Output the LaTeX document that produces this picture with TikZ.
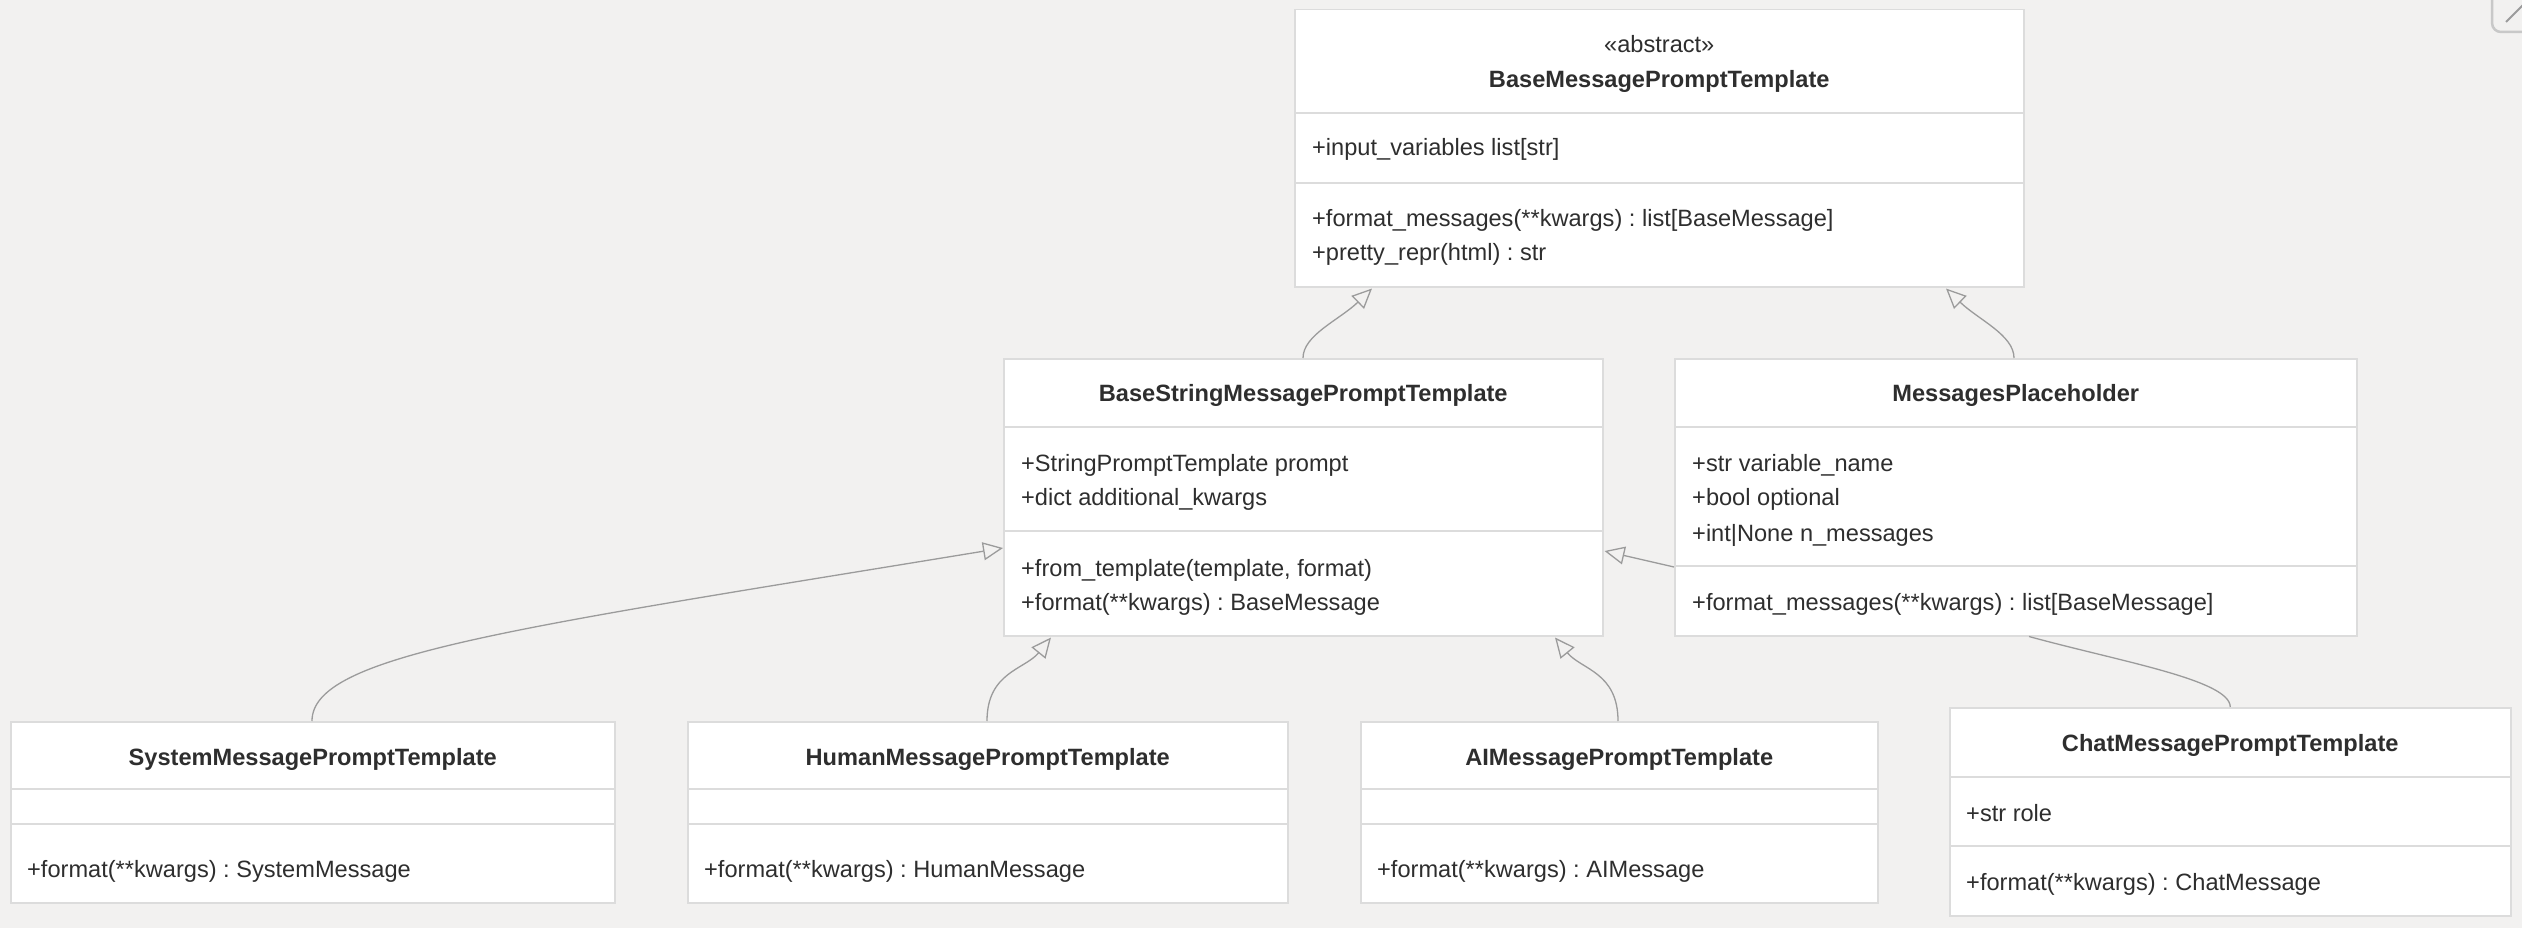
\documentclass[tikz,border=0pt]{standalone}
\usepackage{fontspec}
\setmainfont{Liberation Sans}
\usetikzlibrary{arrows.meta,calc}
\definecolor{bg}{HTML}{F2F1F0}
\definecolor{boxline}{HTML}{DCDCDC}
\definecolor{txt}{HTML}{2E2E2E}
\definecolor{conn}{HTML}{9B9B9B}
\definecolor{btn}{HTML}{C8C8C8}
\frenchspacing
\begin{document}
\begin{tikzpicture}[x=1pt,y=-1pt,
  umlbox/.style={draw=boxline, line width=1.5pt, fill=white, inner sep=0pt, anchor=north west},
  ttl/.style={font=\fontsize{23.6}{28}\selectfont\bfseries, text=txt, anchor=base, inner sep=0pt},
  stereo/.style={font=\fontsize{23.6}{28}\selectfont, text=txt, anchor=base, inner sep=0pt},
  mem/.style={font=\fontsize{23.6}{28}\selectfont, text=txt, anchor=base west, inner sep=0pt},
  divider/.style={draw=boxline, line width=1.5pt},
  inherit/.style={draw=conn, line width=1.3pt, -{Triangle[open, length=20pt, width=18pt]}},
  assoc/.style={draw=conn, line width=1.3pt}]
\fill[bg] (0,0) rectangle (2522,928);
\useasboundingbox (0,0) rectangle (2522,928);

% ---------- boxes ----------
\node[umlbox, minimum width=729pt, minimum height=277pt] (base) at (1294,9) {};
\node[umlbox, minimum width=599pt, minimum height=277pt] (bstr) at (1003,358) {};
\node[umlbox, minimum width=682pt, minimum height=277pt] (mp) at (1674,358) {};
\node[umlbox, minimum width=604pt, minimum height=181pt] (sys) at (10,721) {};
\node[umlbox, minimum width=600pt, minimum height=181pt] (hum) at (687,721) {};
\node[umlbox, minimum width=517pt, minimum height=181pt] (ai) at (1360,721) {};
\node[umlbox, minimum width=561pt, minimum height=208pt] (chat) at (1949,707) {};

% ---------- dividers ----------
\foreach \b/\d in {base/104, base/174, bstr/69, bstr/173, mp/69, mp/208,
                   sys/68, sys/103, hum/68, hum/103, ai/68, ai/103, chat/70, chat/139}
  \draw[divider] ($(\b.north west)+(0,\d)$) -- ($(\b.north east)+(0,\d)$);

% ---------- BaseMessagePromptTemplate ----------
\node[stereo] (baseS) at ($(base.north)+(0,44)$) {«abstract»};
\node[ttl] (baseT) at ($(base.north)+(0,79)$) {BaseMessagePromptTemplate};
\node[mem] (baseA1) at ($(base.north west)+(18,147)$) {+input\_variables list[str]};
\node[mem] (baseM1) at ($(base.north west)+(18,217)$) {+format\_messages(**kwargs) : list[BaseMessage]};
\node[mem] (baseM2) at ($(base.north west)+(18,252)$) {+pretty\_repr(html) : str};

% ---------- BaseStringMessagePromptTemplate ----------
\node[ttl] (bstrT) at ($(bstr.north)+(0,43)$) {BaseStringMessagePromptTemplate};
\node[mem] (bstrA1) at ($(bstr.north west)+(18,113)$) {+StringPromptTemplate prompt};
\node[mem] (bstrA2) at ($(bstr.north west)+(18,147)$) {+dict additional\_kwargs};
\node[mem] (bstrM1) at ($(bstr.north west)+(18,218)$) {+from\_template(template, format)};
\node[mem] (bstrM2) at ($(bstr.north west)+(18,252)$) {+format(**kwargs) : BaseMessage};

% ---------- MessagesPlaceholder ----------
\node[ttl] (mpT) at ($(mp.north)+(0,43)$) {MessagesPlaceholder};
\node[mem] (mpA1) at ($(mp.north west)+(18,113)$) {+str variable\_name};
\node[mem] (mpA2) at ($(mp.north west)+(18,147)$) {+bool optional};
\node[mem] (mpA3) at ($(mp.north west)+(18,183)$) {+int|None n\_messages};
\node[mem] (mpM1) at ($(mp.north west)+(18,252)$) {+format\_messages(**kwargs) : list[BaseMessage]};

% ---------- bottom row ----------
\node[ttl] (sysT) at ($(sys.north)+(0,44)$) {SystemMessagePromptTemplate};
\node[mem] (sysM1) at ($(sys.north west)+(17,156)$) {+format(**kwargs) : SystemMessage};
\node[ttl] (humT) at ($(hum.north)+(0,44)$) {HumanMessagePromptTemplate};
\node[mem] (humM1) at ($(hum.north west)+(17,156)$) {+format(**kwargs) : HumanMessage};
\node[ttl] (aiT) at ($(ai.north)+(0,44)$) {AIMessagePromptTemplate};
\node[mem] (aiM1) at ($(ai.north west)+(17,156)$) {+format(**kwargs) : AIMessage};
\node[ttl] (chatT) at ($(chat.north)+(0,44)$) {ChatMessagePromptTemplate};
\node[mem] (chatA1) at ($(chat.north west)+(17,114)$) {+str role};
\node[mem] (chatM1) at ($(chat.north west)+(17,183)$) {+format(**kwargs) : ChatMessage};

% ---------- connectors ----------
\draw[inherit] ($(bstr.north west)+(300,0)$) .. controls ($(bstr.north west)+(300,-23)$) and ($(base.south west)+(46,32)$) .. ($(base.south west)+(78,1)$);
\draw[inherit] ($(mp.north west)+(340,0)$) .. controls ($(mp.north west)+(340,-23)$) and ($(base.south west)+(684,32)$) .. ($(base.south west)+(652,1)$);
\draw[inherit] ($(sys.north west)+(302,0)$) .. controls ($(sys.north west)+(302,-66)$) and ($(bstr.north west)+(-494,271)$) .. ($(bstr.north west)+(0,190)$);
\draw[inherit] ($(hum.north west)+(300,0)$) .. controls ($(hum.north west)+(300,-49)$) and ($(bstr.south west)+(22,33)$) .. ($(bstr.south west)+(48,1)$);
\draw[inherit] ($(ai.north west)+(258,0)$) .. controls ($(ai.north west)+(258,-49)$) and ($(bstr.south west)+(578,33)$) .. ($(bstr.south west)+(552,1)$);
\draw[inherit] ($(mp.north west)+(0,209)$) -- ($(bstr.north east)+(1,193)$);
\draw[assoc] (chat.north) .. controls ($(chat.north)+(0,-27)$) and ($(mp.south west)+(446,25)$) .. ($(mp.south west)+(355,0)$);

% ---------- cropped corner button ----------
\draw[btn, line width=2.5pt, rounded corners=9pt] (2492,-30) rectangle (2580,32);
\draw[conn, line width=2pt] (2506,22) -- (2524,4);
\end{tikzpicture}
\end{document}
